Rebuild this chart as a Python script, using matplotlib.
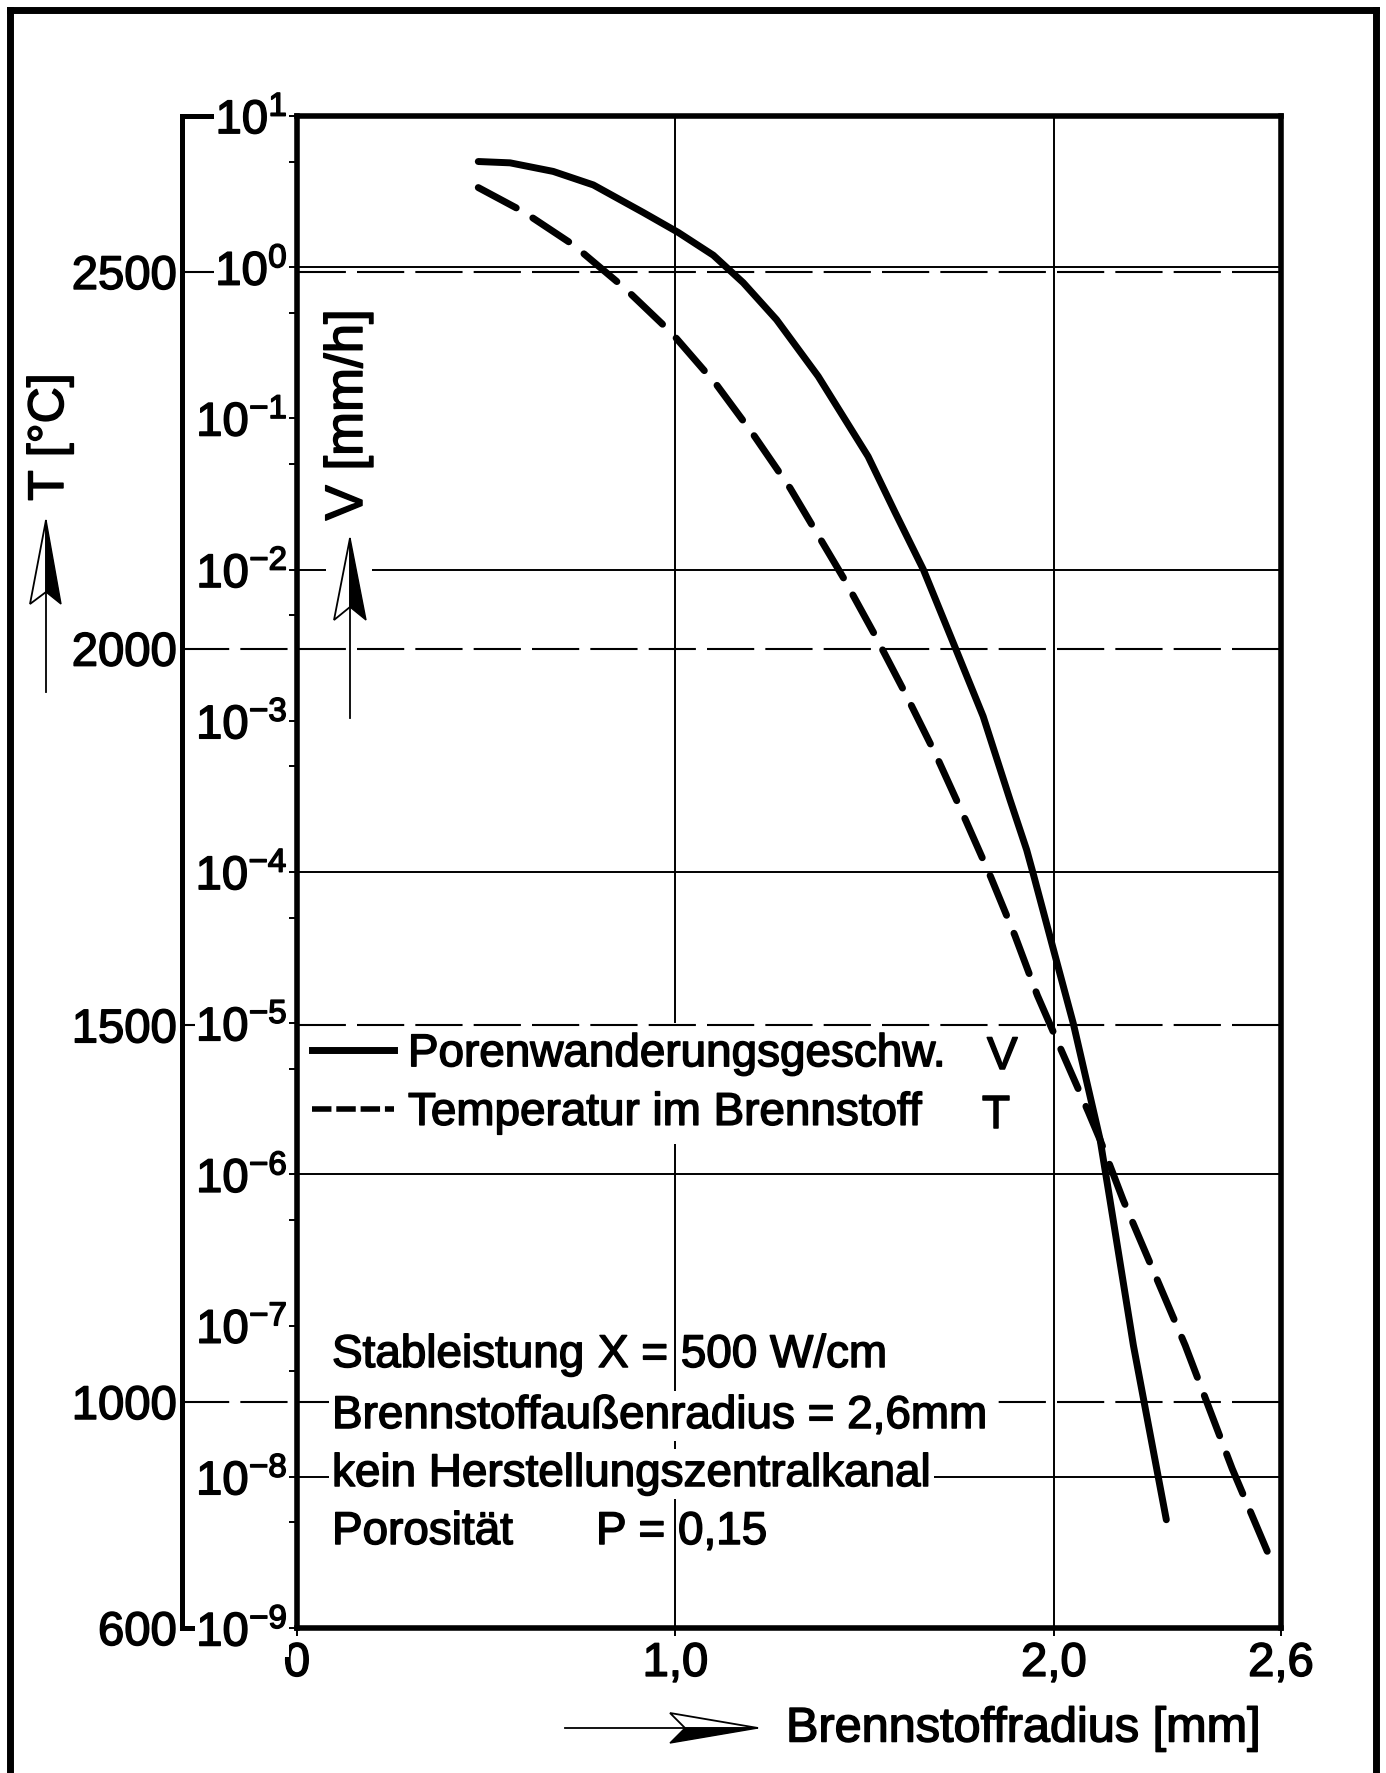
import matplotlib
matplotlib.use("Agg")
import numpy as np
import matplotlib.pyplot as plt
from matplotlib import font_manager, patheffects
from matplotlib.lines import Line2D
from matplotlib.patches import Polygon, Rectangle
from matplotlib.ticker import FixedLocator, NullFormatter

# Porenwanderungsgeschwindigkeit V [mm/h] vs. Brennstoffradius [mm]
radius_v = [0.479, 0.563, 0.677, 0.783, 0.915, 1.007, 1.100, 1.179, 1.267, 1.377,
            1.509, 1.580, 1.655, 1.738, 1.813, 1.884, 1.928, 1.945, 2.003,
            2.051, 2.122, 2.148, 2.210, 2.297]
velocity = [5.0, 4.9, 4.3, 3.5, 2.3, 1.7, 1.2, 0.79, 0.45, 0.19,
            5.6e-2, 2.4e-2, 1.0e-2, 3.1e-3, 1.07e-3, 3.0e-4, 1.4e-4, 9.8e-5, 2.8e-5,
            1.0e-5, 1.7e-6, 6.8e-7, 7.4e-8, 5.2e-9]

# Temperatur im Brennstoff T [°C]
radius_t = [0.479, 0.598, 0.730, 0.867, 0.990, 1.109, 1.206, 1.303, 1.445, 1.527,
            1.612, 1.690, 1.767, 1.833, 1.897, 1.956, 2.022, 2.091, 2.122, 2.183,
            2.347, 2.471, 2.573]
temperature = [2612, 2580, 2536, 2478, 2419, 2350, 2284, 2213, 2093, 2018,
               1936, 1857, 1772, 1697, 1619, 1540, 1464, 1385, 1348, 1268,
               1075, 882, 721]

# axes ticks and grid
v_exponents = [1, 0, -1, -2, -3, -4, -5, -6, -7, -8, -9]
v_major = [10.0 ** e for e in v_exponents]
v_labels = [rf"$10^{{{e}}}$" for e in v_exponents]
v_minor = [5 * 10.0 ** e for e in range(-9, 1)]
v_grid = [1e0, 1e-2, 1e-4, 1e-6, 1e-8]
t_ticks = [600, 1000, 1500, 2000, 2500]
t_labels = ["600", "1000", "1500", "2000", "2500"]
t_grid = [1000, 1500, 2000, 2500]
r_ticks = [0, 1.0, 2.0, 2.6]
r_labels = ["0", "1,0", "2,0", "2,6"]
r_grid = [1.0, 2.0]

legend_labels = ["Porenwanderungsgeschw.", "Temperatur im Brennstoff"]
info_lines = ["Stableistung", "Brennstoffaußenradius = 2,6mm",
              "kein Herstellungszentralkanal", "Porosität"]

# fonts
names = {f.name for f in font_manager.fontManager.ttflist}
TEXT_FONT = "Liberation Sans" if "Liberation Sans" in names else "DejaVu Sans"
NUM_FONT = "Liberation Sans Narrow" if "Liberation Sans Narrow" in names else TEXT_FONT
plt.rcParams["font.family"] = [TEXT_FONT, "DejaVu Sans"]
plt.rcParams["lines.scale_dashes"] = False
plt.rcParams["mathtext.fontset"] = "custom"
plt.rcParams["mathtext.rm"] = NUM_FONT
plt.rcParams["mathtext.it"] = NUM_FONT
plt.rcParams["mathtext.bf"] = NUM_FONT
plt.rcParams["mathtext.default"] = "rm"

# heavier lettering, like the stencil text of the drawing
HEAVY = [patheffects.withStroke(linewidth=1.1, foreground="black")]

W, H = 1386, 1773
fig = plt.figure(figsize=(W / 100, H / 100), dpi=100, facecolor="white")


def fx(x):
    return x / W


def fy(y):
    return 1 - y / H


LEFT, RIGHT, TOP, BOTTOM, T_SPINE = 297, 1281, 116, 1628, 182


def axx(x):
    return (x - LEFT) / (RIGHT - LEFT)


def axy(y):
    return (BOTTOM - y) / (BOTTOM - TOP)


# temperature axis (behind), wider so its dashed grid reaches its own spine
ax_t = fig.add_axes([fx(T_SPINE), fy(BOTTOM), fx(RIGHT) - fx(T_SPINE), fy(TOP) - fy(BOTTOM)])
ax = fig.add_axes([fx(LEFT), fy(BOTTOM), fx(RIGHT) - fx(LEFT), fy(TOP) - fy(BOTTOM)])
ax.patch.set_visible(False)

r_max = 2.6
ax_t.set_xlim(-r_max * (LEFT - T_SPINE) / (RIGHT - LEFT), r_max)


def t_fwd(t):
    t = np.asarray(t, dtype=float)
    return np.where(t >= 1000, t, 1000 - 0.75 * (1000 - t))


def t_inv(u):
    u = np.asarray(u, dtype=float)
    return np.where(u >= 1000, u, 1000 - (1000 - u) / 0.75)


ax_t.set_yscale("function", functions=(t_fwd, t_inv))
ax_t.set_ylim(600, 2707)
for s in ["top", "right", "bottom"]:
    ax_t.spines[s].set_visible(False)
ax_t.spines["left"].set_linewidth(3.6)
ax_t.set_xticks([])
ax_t.set_yticks(t_ticks, t_labels, fontsize=34, fontfamily=NUM_FONT)
ax_t.tick_params(axis="y", length=0, pad=3.5)
# end caps of the T axis
ax_t.add_line(Line2D([0, (221 - T_SPINE) / (RIGHT - T_SPINE)], [1, 1], transform=ax_t.transAxes,
                     color="k", lw=3.6, clip_on=False))
ax_t.add_line(Line2D([0, (201 - T_SPINE) / (RIGHT - T_SPINE)], [0, 0], transform=ax_t.transAxes,
                     color="k", lw=3.6, clip_on=False))

for r in r_grid:
    ax_t.axvline(r, color="k", lw=1.4, zorder=1)
for t in t_grid:
    ax_t.axhline(t, color="k", lw=1.5, dashes=(34, 8), zorder=6)
ax_t.plot(radius_t, temperature, color="k", lw=5, dashes=(31, 14),
          dash_capstyle="round", zorder=7)

handles = [Line2D([], [], color="k", lw=5),
           Line2D([], [], color="k", lw=4, dashes=(14, 3.5))]
leg = ax_t.legend(handles, legend_labels, loc="upper left",
                  bbox_to_anchor=(fx(303), fy(1023)), bbox_transform=fig.transFigure,
                  frameon=True, fancybox=False, framealpha=1, edgecolor="none",
                  facecolor="white", borderpad=0.2, handlelength=1.79, handletextpad=0.3,
                  labelspacing=0.32, borderaxespad=0, prop=dict(family=TEXT_FONT, size=33))
leg.set_zorder(5)
for txt in leg.get_texts():
    txt.set_path_effects(HEAVY)

# velocity axis (log)
ax.set_xlim(0, r_max)
ax.set_yscale("log")
ax.set_ylim(1e-9, 1e1)
ax.set_yticks(v_major, v_labels, fontsize=34)
ax.yaxis.set_minor_locator(FixedLocator(v_minor))
ax.yaxis.set_minor_formatter(NullFormatter())
ax.tick_params(axis="y", which="both", direction="out", length=6, width=1.4, pad=1)
ax.set_xticks(r_ticks, r_labels, fontsize=34, fontfamily=NUM_FONT)
ax.tick_params(axis="x", direction="out", length=6, width=1.4, pad=4)
for s in ax.spines.values():
    s.set_linewidth(4)
for lab in ax.get_yticklabels():
    lab.set_bbox(dict(facecolor="white", edgecolor="none", pad=1.0))
    lab.set_path_effects(HEAVY)
for lab in ax.get_xticklabels() + ax_t.get_yticklabels():
    lab.set_path_effects(HEAVY)

for v in v_grid:
    ax.axhline(v, color="k", lw=1.4, zorder=1)
ax.plot(radius_v, velocity, color="k", lw=5, solid_capstyle="round", zorder=3)

# info block
box = dict(facecolor="white", edgecolor="none", pad=2)
info = [
    ax.text(axx(332), axy(1355), info_lines[0], transform=ax.transAxes, fontsize=33, va="center"),
    ax.text(axx(598), axy(1355), "X = 500 W/cm", transform=ax.transAxes, fontsize=33, va="center"),
    ax.text(axx(332), axy(1416), info_lines[1], transform=ax.transAxes, fontsize=33, va="center",
            bbox=box, zorder=6),
    ax.text(axx(332), axy(1474), info_lines[2], transform=ax.transAxes, fontsize=33, va="center",
            bbox=box, zorder=6),
    ax.text(axx(332), axy(1532), info_lines[3], transform=ax.transAxes, fontsize=33, va="center"),
    ax.text(axx(596), axy(1532), "P = 0,15", transform=ax.transAxes, fontsize=33, va="center"),
    # legend symbols column
    fig.text(fx(987), fy(1057), "V", fontsize=33, va="center"),
    fig.text(fx(982), fy(1116), "T", fontsize=33, va="center"),
    # axis labels
    fig.text(fx(50), fy(437), "T [°C]", fontsize=36, rotation=90, ha="center", va="center"),
    fig.text(fx(348), fy(415), "V [mm/h]", fontsize=38, rotation=90, ha="center", va="center"),
    fig.text(fx(786), fy(1729), "Brennstoffradius [mm]", fontsize=35, va="center"),
]
for txt in info:
    txt.set_path_effects(HEAVY)


def P(pts):
    return [(fx(x), fy(y)) for x, y in pts]


def feather_arrow(shaft, white_half, black_half):
    (x0, y0), (x1, y1) = shaft
    fig.add_artist(Line2D([fx(x0), fx(x1)], [fy(y0), fy(y1)], color="k", lw=1.3, zorder=3))
    fig.add_artist(Polygon(P(white_half), closed=True, facecolor="white", edgecolor="k",
                           lw=1.3, zorder=4))
    fig.add_artist(Polygon(P(black_half), closed=True, facecolor="black", edgecolor="k",
                           lw=1.0, zorder=4))


# gap in the 10^-2 gridline around the V arrow
fig.add_artist(Rectangle((fx(326), fy(578)), fx(372) - fx(326), fy(564) - fy(578),
                         facecolor="white", edgecolor="none", zorder=2))
feather_arrow([(46, 692), (46, 522)],
              [(46, 520), (30, 604), (46, 592)],
              [(46, 520), (61, 604), (46, 592)])
feather_arrow([(350, 718), (350, 540)],
              [(350, 538), (334, 620), (350, 607)],
              [(350, 538), (366, 620), (350, 607)])
feather_arrow([(565, 1728), (756, 1728)],
              [(758, 1728), (670, 1713), (685, 1728)],
              [(758, 1728), (670, 1743), (685, 1728)])

# outer frame (open at the bottom)
for xs, ys in [([10, 10], [H + 10, 10]), ([1376, 1376], [H + 10, 10]), ([10, 1376], [10, 10])]:
    fig.add_artist(Line2D([fx(x) for x in xs], [fy(y) for y in ys], color="k", lw=5,
                          solid_capstyle="projecting", zorder=5))

fig.savefig("out.png", dpi=100, facecolor="white")
